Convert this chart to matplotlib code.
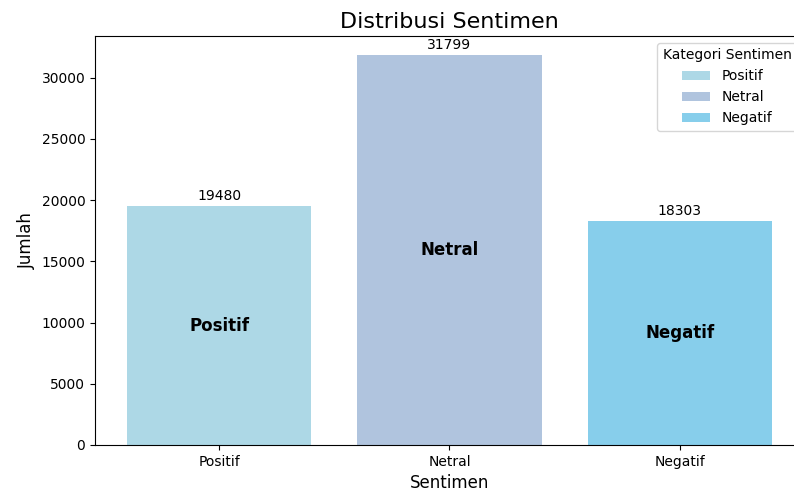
import matplotlib
matplotlib.use("Agg")
import matplotlib.pyplot as plt

# data
categories = ["Positif", "Netral", "Negatif"]
counts = [19480, 31799, 18303]
colors = ["lightblue", "lightsteelblue", "skyblue"]

fig = plt.figure(figsize=(7.94, 4.91), dpi=100)
ax = fig.add_axes([95 / 794, 1 - 445 / 491, (804 - 95) / 794, (445 - 36) / 491])

bars = ax.bar(categories, counts, color=colors, label=categories)

# count above each bar
for b, v in zip(bars, counts):
    ax.text(b.get_x() + b.get_width() / 2, v + 250, str(v),
            ha="center", va="bottom", fontsize=10)

# category name inside each bar
for b, name, v in zip(bars, categories, counts):
    ax.text(b.get_x() + b.get_width() / 2, v / 2, name,
            ha="center", va="center", fontsize=12, fontweight="bold")

ax.set_title("Distribusi Sentimen", fontsize=16)
ax.set_xlabel("Sentimen", fontsize=12)
ax.set_ylabel("Jumlah", fontsize=12)
ax.legend(title="Kategori Sentimen", loc="upper right")

fig.savefig("out.png", dpi=100)
